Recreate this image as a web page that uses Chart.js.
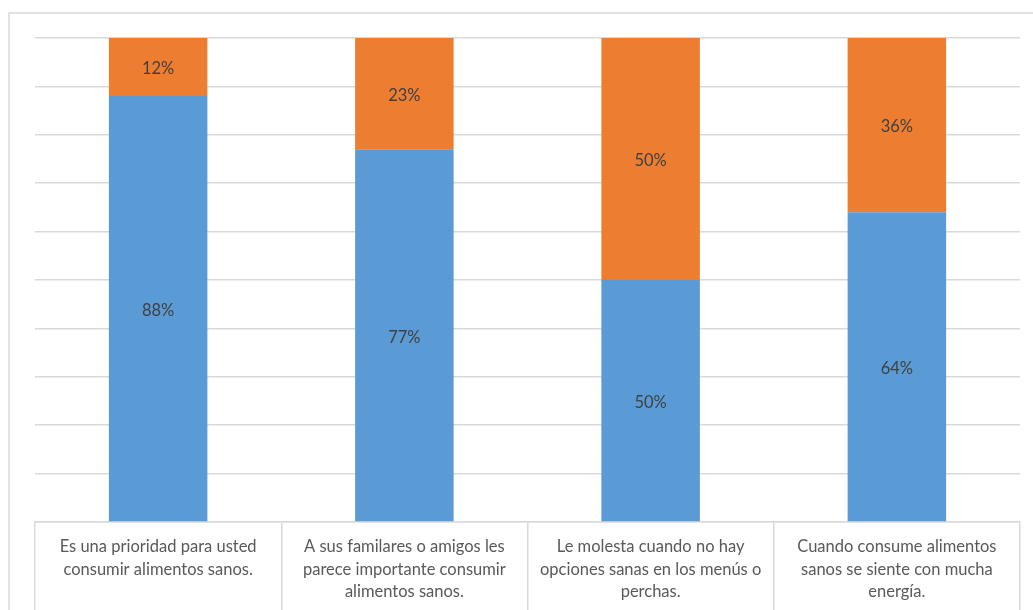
<!DOCTYPE html>
<html>
<head>
<meta charset="utf-8">
<script src="https://cdn.jsdelivr.net/npm/chart.js@4"></script>
<style>
  body { margin: 0; background: #fff; }
  #wrap { width: 1033px; height: 610px; }
</style>
</head>
<body>
<div id="wrap"><canvas id="chart" width="1033" height="610"></canvas></div>
<script>
const categories = [
    ['Es una prioridad para usted', 'consumir alimentos sanos.'],
    ['A sus familares o amigos les', 'parece importante consumir', 'alimentos sanos.'],
    ['Le molesta cuando no hay', 'opciones sanas en los menús o', 'perchas.'],
    ['Cuando consume alimentos', 'sanos se siente con mucha', 'energía.']
];
const siValues = [88, 77, 50, 64];
const noValues = [12, 23, 50, 36];

// outer chart border (top + left), cropped like the original
const frame = {
    id: 'frame',
    beforeDraw(chart) {
        const ctx = chart.ctx;
        ctx.save();
        ctx.strokeStyle = '#d9d9d9';
        ctx.lineWidth = 1.5;
        ctx.beginPath();
        ctx.moveTo(9, chart.height);
        ctx.lineTo(9, 13);
        ctx.lineTo(chart.width, 13);
        ctx.stroke();
        ctx.restore();
    }
};

// percentage labels in the middle of each segment
const barLabels = {
    id: 'barLabels',
    afterDatasetsDraw(chart) {
        const ctx = chart.ctx;
        ctx.save();
        ctx.font = '16.5px Lato, "Open Sans", sans-serif';
        ctx.fillStyle = '#404040';
        ctx.textAlign = 'center';
        ctx.textBaseline = 'middle';
        chart.data.datasets.forEach((ds, i) => {
            chart.getDatasetMeta(i).data.forEach((bar, j) => {
                const p = bar.getCenterPoint();
                ctx.fillText(ds.data[j] + '%', p.x, p.y + 2);
            });
        });
        ctx.restore();
    }
};

new Chart(document.getElementById('chart'), {
    type: 'bar',
    data: {
        labels: categories,
        datasets: [
            { label: 'Sí', data: siValues, backgroundColor: '#5b9bd5' },
            { label: 'No', data: noValues, backgroundColor: '#ed7d31' }
        ]
    },
    options: {
        responsive: false,
        animation: false,
        layout: { padding: { left: 35, right: 13, top: 38, bottom: 0 } },
        datasets: { bar: { categoryPercentage: 1, barPercentage: 0.4 } },
        plugins: { legend: { display: false }, tooltip: { enabled: false } },
        scales: {
            x: {
                stacked: true,
                afterFit: s => { s.height = 88; },
                border: { display: true, color: '#d9d9d9', width: 1.5 },
                grid: {
                    offset: true,
                    drawOnChartArea: false,
                    drawTicks: true,
                    tickLength: 88,
                    color: '#d9d9d9',
                    lineWidth: 1.5
                },
                ticks: {
                    maxRotation: 0,
                    autoSkip: false,
                    padding: -74,
                    color: '#595959',
                    font: { family: 'Lato, "Open Sans", sans-serif', size: 16.5, lineHeight: 1.35 }
                }
            },
            y: {
                stacked: true,
                min: 0,
                max: 100,
                afterFit: s => { s.width = 0; },
                border: { display: false },
                grid: { color: '#d9d9d9', lineWidth: 1.5, drawTicks: false },
                ticks: { display: false, stepSize: 10 }
            }
        }
    },
    plugins: [frame, barLabels]
});
</script>
</body>
</html>
